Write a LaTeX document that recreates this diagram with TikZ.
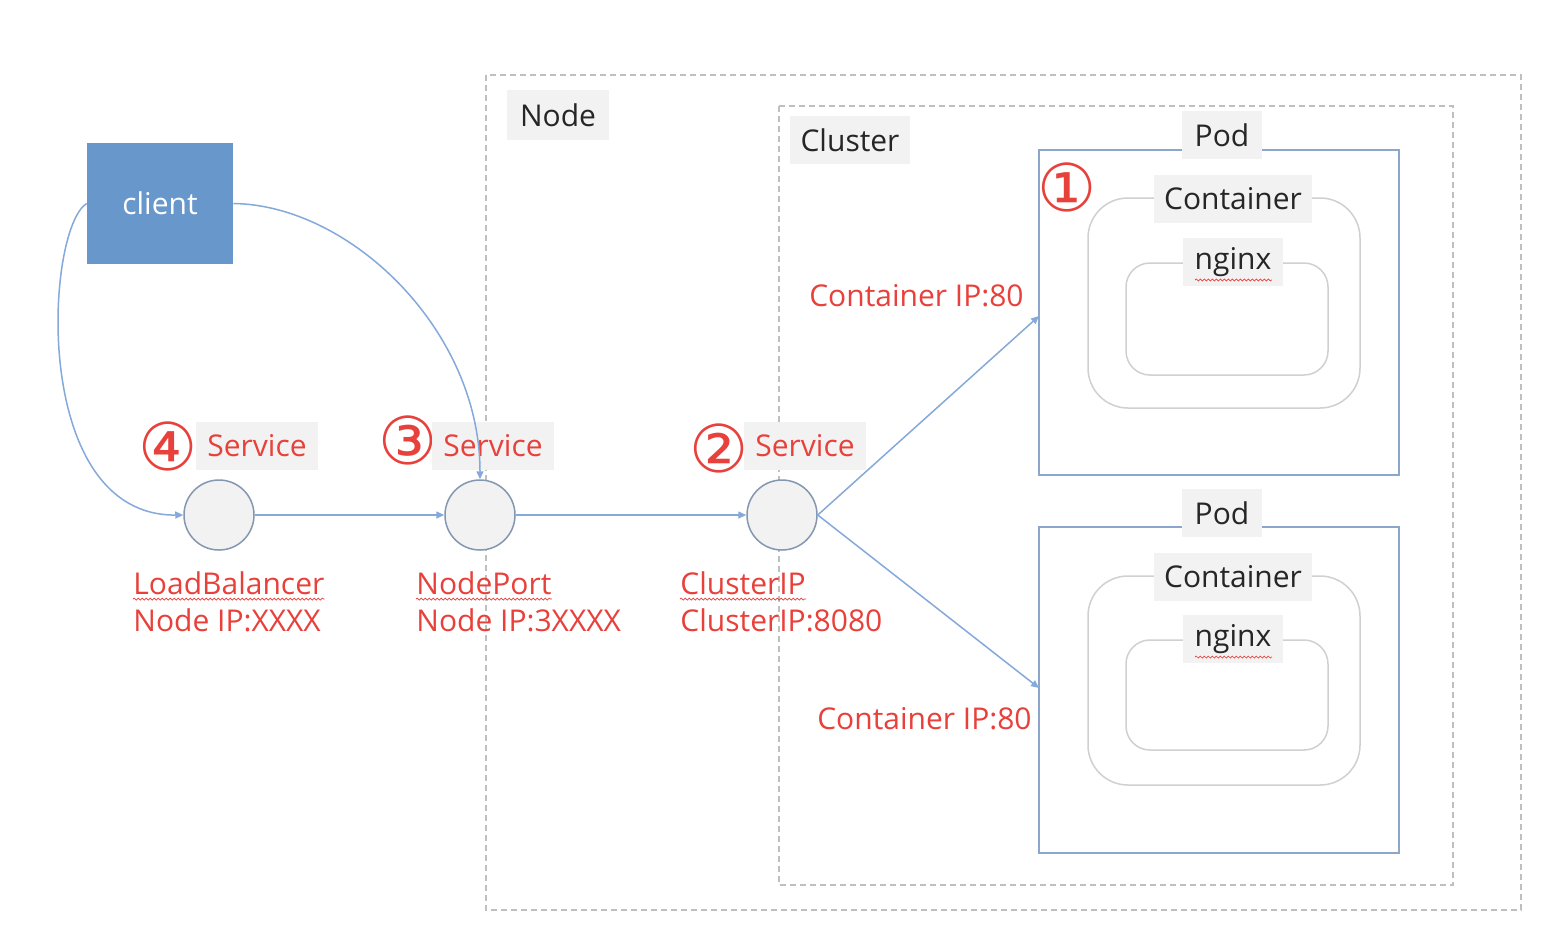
\documentclass[tikz,border=0pt]{standalone}
\usepackage{fontspec}
\setmainfont{Open Sans}
\newfontfamily\symfont{DejaVu Sans}
\usetikzlibrary{arrows.meta,decorations.pathmorphing}
\definecolor{redtxt}{HTML}{E8403A}
\definecolor{darktxt}{HTML}{262626}
\definecolor{lblfill}{HTML}{F2F2F2}
\definecolor{dashgray}{HTML}{BFBFBF}
\definecolor{podblue}{HTML}{8DA6CC}
\definecolor{contgray}{HTML}{D0D0D0}
\definecolor{clientblue}{HTML}{6897CC}
\definecolor{circstroke}{HTML}{8497B0}
\definecolor{arrowblue}{HTML}{85A9DA}
\begin{document}
\begin{tikzpicture}[x=0.5pt,y=-0.5pt,
  every node/.style={font=\fontsize{15pt}{18pt}\selectfont},
  dashbox/.style={draw=dashgray,line width=0.75pt,dash pattern=on 3pt off 2pt},
  podbox/.style={draw=podblue,line width=0.75pt},
  contbox/.style={draw=contgray,line width=0.75pt,rounded corners=20pt},
  nginxbox/.style={draw=contgray,line width=0.75pt,rounded corners=12pt},
  graylbl/.style={fill=lblfill,text=darktxt,inner sep=0pt},
  redlbl/.style={fill=lblfill,text=redtxt,inner sep=0pt,minimum width=61pt,minimum height=24pt},
  redtext/.style={text=redtxt,inner sep=0pt,anchor=base west},
  numsym/.style={text=redtxt,inner sep=0pt,font=\symfont\fontsize{33pt}{33pt}\selectfont},
  svc/.style={circle,fill=lblfill,draw=circstroke,line width=0.75pt,minimum size=35pt,inner sep=0pt},
  conn/.style={draw=arrowblue,line width=0.75pt,-{Triangle[length=4pt,width=3.5pt]}},
  squig/.style={draw=redtxt,line width=0.35pt,decorate,decoration={snake,amplitude=0.5pt,segment length=2pt}}
]
\useasboundingbox[fill=white] (0,0) rectangle (1556,950);

% Node and Cluster frames
\draw[dashbox] (486,75) rectangle (1521,910);
\node[graylbl,minimum width=51pt,minimum height=25pt] (nodelbl) at (558,115) {Node};
\draw[dashbox] (779,106) rectangle (1453,885);
\node[graylbl,minimum width=60pt,minimum height=24pt] (clusterlbl) at (850,140) {Cluster};

% Pod 1
\draw[podbox] (1039,150) rectangle (1399,475);
\coordinate (pod1in) at (1039,316);
\node[graylbl,minimum width=40pt,minimum height=24pt] (pod1lbl) at (1222,135) {Pod};
\node[numsym] (n1) at (1067,187) {①};
\draw[contbox] (1088,198) rectangle (1360,408);
\node[graylbl,minimum width=79pt,minimum height=24pt] (cont1lbl) at (1233,199) {Container};
\draw[nginxbox] (1126,263) rectangle (1328,375);
\node[graylbl,minimum width=50pt,minimum height=24pt] (ngx1lbl) at (1233,262) {nginx};
\draw[squig] (1195,280) -- (1272,280);

% Pod 2
\draw[podbox] (1039,527) rectangle (1399,853);
\coordinate (pod2in) at (1039,688);
\node[graylbl,minimum width=40pt,minimum height=24pt] (pod2lbl) at (1222,513) {Pod};
\draw[contbox] (1088,576) rectangle (1360,785);
\node[graylbl,minimum width=79pt,minimum height=24pt] (cont2lbl) at (1233,577) {Container};
\draw[nginxbox] (1126,640) rectangle (1328,750);
\node[graylbl,minimum width=50pt,minimum height=24pt] (ngx2lbl) at (1233,639) {nginx};
\draw[squig] (1195,657) -- (1272,657);

% client
\node[fill=clientblue,text=white,minimum width=73pt,minimum height=60.5pt,inner sep=0pt] (client) at (160,203.5) {client};

% services
\node[svc] (lb) at (219,515) {};
\node[svc] (np) at (480,515) {};
\node[svc] (cip) at (782,515) {};

\node[numsym] (n4) at (168,446) {④};
\node[redlbl] (svc4) at (257,446) {Service};
\node[numsym] (n3) at (408,440) {③};
\node[redlbl] (svc3) at (493,446) {Service};
\node[numsym] (n2) at (719,448) {②};
\node[redlbl] (svc2) at (805,446) {Service};

% bottom labels
\node[redtext] (lbA) at (133,594) {LoadBalancer};
\node[redtext] (lbB) at (133,631) {Node IP:XXXX};
\node[redtext] (npA) at (416,594) {NodePort};
\node[redtext] (npB) at (416,631) {Node IP:3XXXX};
\node[redtext] (cipA) at (680,594) {ClusterIP};
\node[redtext] (cipB) at (680,631) {ClusterIP:8080};
\draw[squig] ([yshift=-2.5pt]lbA.base west) -- ([yshift=-2.5pt]lbA.base east);
\draw[squig] ([yshift=-2.5pt]npA.base west) -- ([yshift=-2.5pt]npA.base east);
\draw[squig] ([yshift=-2.5pt]cipA.base west) -- ([yshift=-2.5pt]cipA.base east);

\node[text=redtxt,inner sep=0pt,anchor=base east] (cip1) at (1024,306) {Container IP:80};
\node[text=redtxt,inner sep=0pt,anchor=base east] (cip2) at (1032,729) {Container IP:80};

% connectors
\draw[conn] (client.west) .. controls (45,230) and (30,516) .. (lb.west);
\draw[conn] (client.east) .. controls (350,205) and (480,330) .. (np.north);
\draw[conn] (lb) -- (np);
\draw[conn] (np) -- (cip);
\draw[conn] (cip.east) -- (pod1in);
\draw[conn] (cip.east) -- (pod2in);
\end{tikzpicture}
\end{document}
